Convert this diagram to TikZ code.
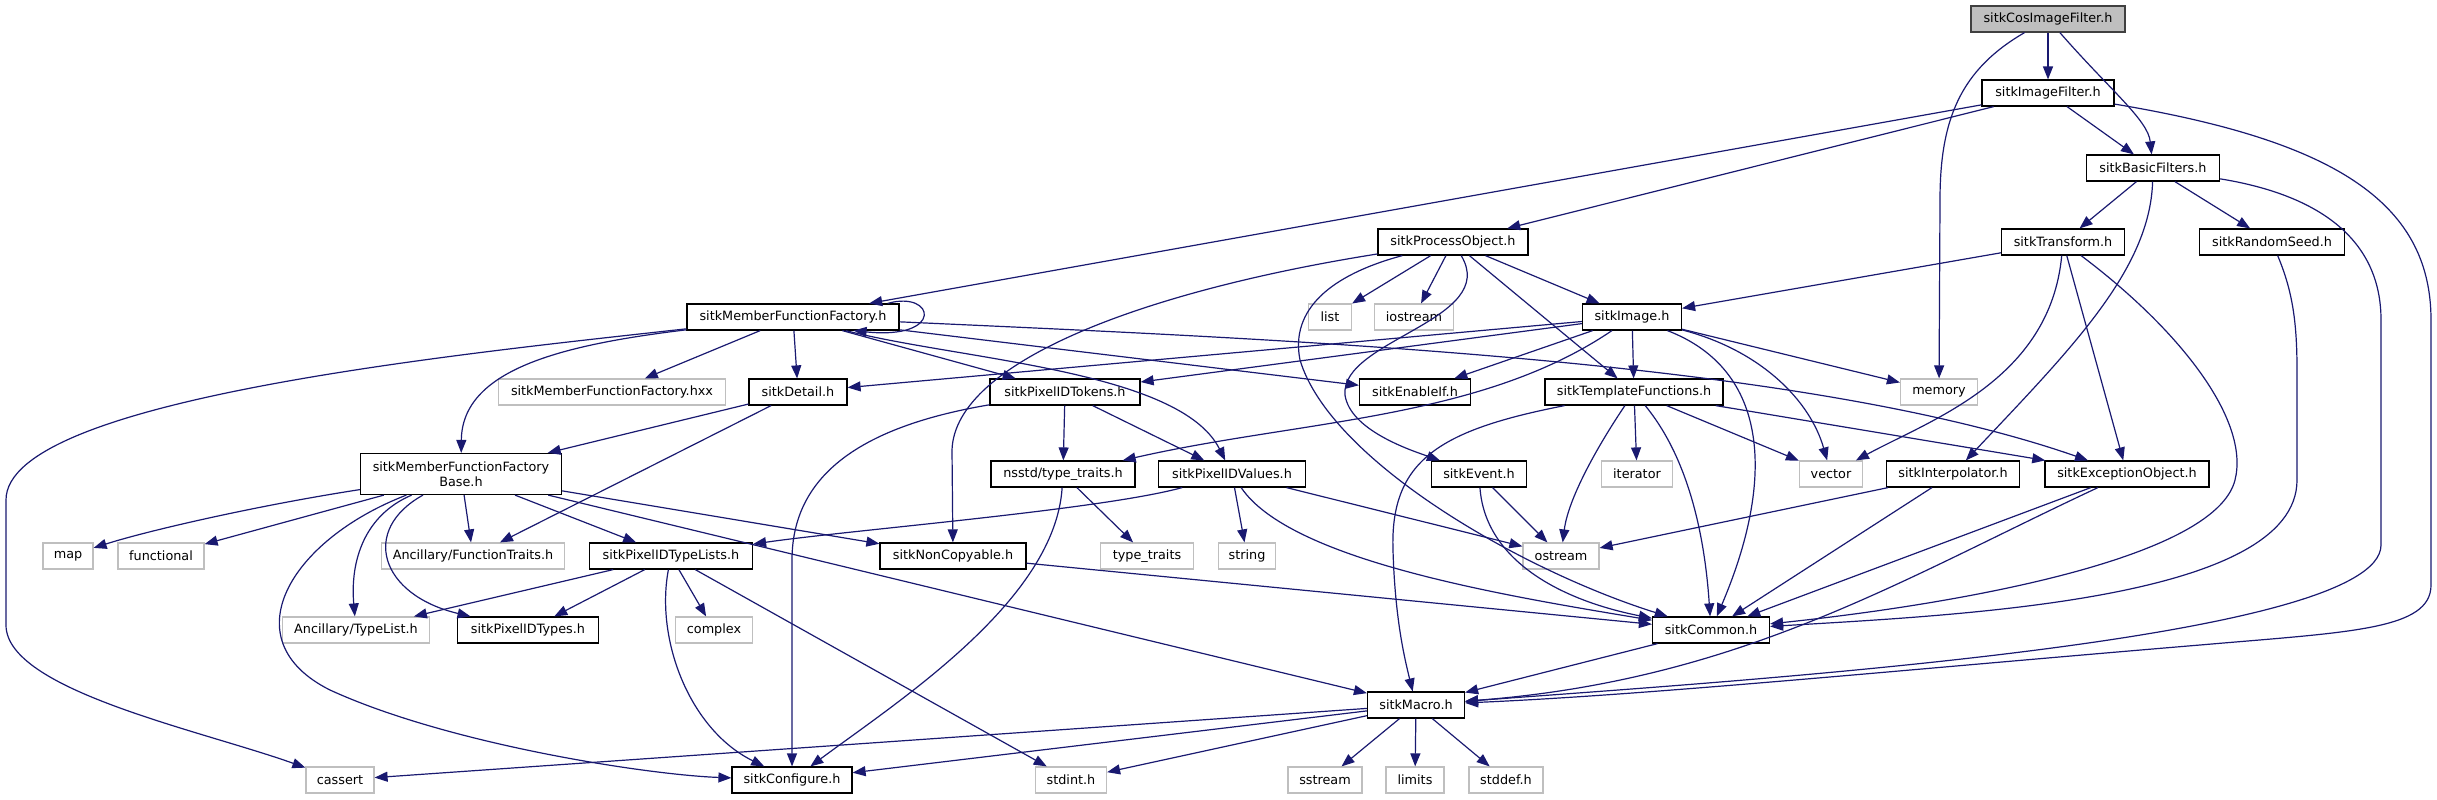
\documentclass[tikz,border=0pt]{standalone}
\usepackage{fontspec}
\setmainfont{DejaVu Sans}
\usetikzlibrary{arrows.meta}
\definecolor{edgeblue}{HTML}{191970}
\definecolor{sysgray}{HTML}{BFBFBF}
\begin{document}
\begin{tikzpicture}[x=.5pt,y=-.5pt,font=\fontsize{6.4}{7.5}\selectfont,
 box/.style={minimum height=13pt,inner sep=0pt,line width=.6pt,fill=white},
 hdr/.style={box,draw=black},
 sys/.style={box,draw=sysgray},
 root/.style={box,draw=black!75,fill=sysgray},
 dep/.style={edgeblue,line width=.6pt,-{Triangle[length=6.5pt,width=5pt]}}]
 \useasboundingbox (0,0) rectangle (2437,799);
 \node[root,minimum width=77pt] (cos) at (2048,19) {sitkCosImageFilter.h};
 \foreach \n/\x/\y/\w/\t in {imgf/2048/93/66/sitkImageFilter.h, basic/2153/168/66.5/sitkBasicFilters.h,
   proc/1453/242/75/sitkProcessObject.h, trans/2063/242/61.5/sitkTransform.h, rseed/2272/242/72.5/sitkRandomSeed.h,
   mff/793/317/106/sitkMemberFunctionFactory.h, img/1632/317/49.5/sitkImage.h,
   detail/798/392/49/sitkDetail.h, tokens/1065/392/75/sitkPixelIDTokens.h, enable/1415/392/55.5/sitkEnableIf.h,
   templ/1634/392/89/sitkTemplateFunctions.h, nsstd/1063/474/72/{nsstd/type\_traits.h},
   values/1232/474/73.5/sitkPixelIDValues.h, event/1479/474/47.5/sitkEvent.h, interp/1953/474/66.5/sitkInterpolator.h,
   except/2127/474/82/sitkExceptionObject.h, typelists/671/556/81.5/sitkPixelIDTypeLists.h,
   noncopy/953/556/73/sitkNonCopyable.h, pidtypes/528/630/70.5/sitkPixelIDTypes.h, common/1711/630/58.5/sitkCommon.h,
   macro/1416/705/48.5/sitkMacro.h, config/792/780/60/sitkConfigure.h}
  \node[hdr,minimum width=\w pt] (\n) at (\x,\y) {\t};
 \node[hdr,minimum width=100.5pt,minimum height=20.5pt,align=center] (mffbase) at (461,474) {sitkMemberFunctionFactory\\Base.h};
 \foreach \n/\x/\y/\w/\t in {list/1330/317/21.5/list, iostr/1414/317/39.5/iostream,
   hxx/612/392/113.5/sitkMemberFunctionFactory.hxx, memory/1939/392/38.5/memory,
   iter/1637/474/35.5/iterator, vector/1831/474/31.5/vector, map/68/556/25/map, func/161/556/43/functional,
   ftraits/473/556/91.5/{Ancillary/FunctionTraits.h}, ttraits/1147/556/46.5/type\_traits, string/1247/556/28.5/string,
   ostream/1561/556/38/ostream, typelist/356/630/73.5/{Ancillary/TypeList.h}, complex/714/630/38.5/complex,
   cassert/340/780/34/cassert, stdint/1071/780/35.5/stdint.h, sstream/1325/780/37/sstream,
   limits/1415/780/29/limits, stddef/1506/780/37/stddef.h}
  \node[sys,minimum width=\w pt] (\n) at (\x,\y) {\t};
 % straight includes
 \foreach \a/\b in {cos/imgf, imgf/basic, imgf/mff, imgf/proc, basic/trans, basic/rseed, trans/img, trans/except,
   proc/list, proc/iostr, proc/img, proc/templ, mff/hxx, mff/detail, mff/tokens, mff/enable,
   detail/mffbase, detail/ftraits, tokens/nsstd, tokens/values, img/detail, img/tokens, img/enable, img/templ, img/memory,
   templ/iter, templ/vector, templ/except, event/ostream, values/string, values/ostream, nsstd/ttraits, noncopy/common,
   mffbase/func, mffbase/ftraits, mffbase/typelists, mffbase/noncopy, mffbase/macro,
   typelists/typelist, typelists/pidtypes, typelists/complex, typelists/stdint,
   common/macro, interp/ostream, interp/common, except/common}
  \draw[dep] (\a) -- (\b);
 \foreach \t in {cassert,config,stdint,sstream,limits,stddef} \draw[dep] (macro) -- (\t);
 % curved includes
 \draw[dep] (cos) .. controls (2110,90) and (2148,120) .. (basic);
 \draw[dep] (cos) .. controls (1960,70) and (1940,120) .. (1940,200) -- (memory);
 \draw[dep] (imgf) .. controls (2330,140) and (2431,200) .. (2431,320) -- (2431,585) .. controls (2431,630) and (2350,632) .. (2200,645) .. controls (1900,670) and (1650,695) .. (macro);
 \draw[dep] (basic) .. controls (2150,270) and (2070,350) .. (interp);
 \draw[dep] (basic) .. controls (2320,195) and (2381,240) .. (2381,320) -- (2381,545) .. controls (2381,640) and (1750,680) .. (macro);
 \draw[dep] (trans) .. controls (2050,380) and (1930,420) .. (vector);
 \draw[dep] (trans) .. controls (2180,330) and (2250,420) .. (2235,480) .. controls (2215,560) and (1950,605) .. (common);
 \draw[dep] (rseed) .. controls (2292,290) and (2297,320) .. (2297,370) -- (2297,480) .. controls (2297,600) and (1960,615) .. (common);
 \draw[dep] (proc) .. controls (1500,320) and (1340,340) .. (1345,395) .. controls (1350,430) and (1410,450) .. (event);
 \draw[dep] (proc) .. controls (1330,275) and (1290,310) .. (1300,360) .. controls (1330,460) and (1520,570) .. (common);
 \draw[dep] (proc) .. controls (1150,290) and (955,360) .. (952,450) -- (noncopy);
 \draw[dep] ([xshift=-6pt]mff.north east) .. controls (935,290) and (945,340) .. ([xshift=-23pt]mff.south east);
 \draw[dep] (mff) .. controls (560,345) and (462,370) .. (mffbase);
 \draw[dep] (mff) .. controls (960,360) and (1180,370) .. (values);
 \draw[dep] (mff) .. controls (1300,340) and (1800,360) .. (except);
 \draw[dep] (mff) .. controls (450,355) and (6,400) .. (6,500) -- (6,625) .. controls (6,690) and (200,730) .. (cassert);
 \draw[dep] (tokens) .. controls (870,425) and (792,470) .. (792,560) -- (config);
 \draw[dep] (img) .. controls (1480,420) and (1300,420) .. (nsstd);
 \draw[dep] (img) .. controls (1760,350) and (1810,400) .. (vector);
 \draw[dep] (img) .. controls (1770,370) and (1775,480) .. (common);
 \draw[dep] (templ) .. controls (1690,460) and (1705,540) .. (common);
 \draw[dep] (templ) .. controls (1595,450) and (1568,500) .. (ostream);
 \draw[dep] (templ) .. controls (1440,430) and (1390,460) .. (1393,550) .. controls (1395,620) and (1405,660) .. (macro);
 \draw[dep] (event) .. controls (1485,560) and (1560,600) .. (common);
 \draw[dep] (values) .. controls (1290,560) and (1500,595) .. (common);
 \draw[dep] (values) .. controls (1100,510) and (850,530) .. (typelists);
 \draw[dep] (nsstd) .. controls (1055,600) and (900,700) .. (config);
 \draw[dep] (mffbase) .. controls (260,505) and (150,530) .. (map);
 \draw[dep] (mffbase) .. controls (365,515) and (350,560) .. (typelist);
 \draw[dep] (mffbase) .. controls (360,530) and (380,595) .. (pidtypes);
 \draw[dep] (mffbase) .. controls (290,540) and (230,640) .. (330,690) .. controls (450,745) and (650,775) .. (config);
 \draw[dep] (typelists) .. controls (655,640) and (690,730) .. (config);
 \draw[dep] (except) .. controls (1900,580) and (1740,680) .. (macro);
\end{tikzpicture}
\end{document}
